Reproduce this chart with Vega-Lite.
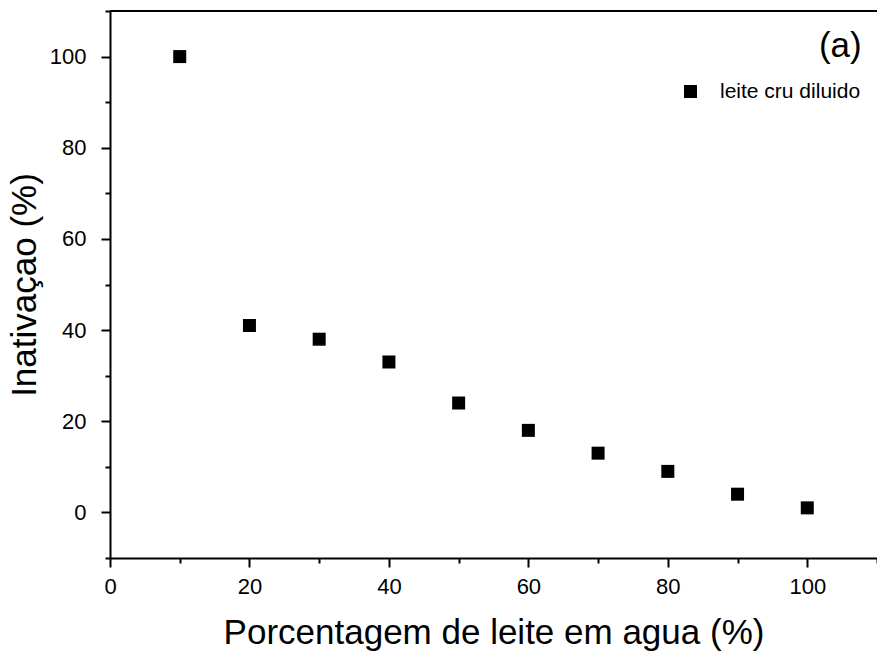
{
  "$schema": "https://vega.github.io/schema/vega-lite/v6.json",
  "width": 767,
  "height": 547,
  "autosize": {"type": "none"},
  "padding": {"left": 110, "top": 11, "right": 0, "bottom": 97},
  "background": "white",
  "config": {
    "view": {"stroke": null},
    "font": "Liberation Sans",
    "axis": {
      "grid": false,
      "domainColor": "black",
      "domainWidth": 2,
      "tickColor": "black",
      "tickWidth": 2,
      "labelColor": "black",
      "labelFont": "Liberation Sans",
      "labelFontSize": 22,
      "titleFont": "Liberation Sans",
      "titleFontSize": 35,
      "titleFontWeight": "normal",
      "titleColor": "black"
    }
  },
  "data": {
    "values": [
      {"x": 10, "y": 100, "serie": "leite cru diluido"},
      {"x": 20, "y": 41, "serie": "leite cru diluido"},
      {"x": 30, "y": 38, "serie": "leite cru diluido"},
      {"x": 40, "y": 33, "serie": "leite cru diluido"},
      {"x": 50, "y": 24, "serie": "leite cru diluido"},
      {"x": 60, "y": 18, "serie": "leite cru diluido"},
      {"x": 70, "y": 13, "serie": "leite cru diluido"},
      {"x": 80, "y": 9, "serie": "leite cru diluido"},
      {"x": 90, "y": 4, "serie": "leite cru diluido"},
      {"x": 100, "y": 1, "serie": "leite cru diluido"}
    ]
  },
  "layer": [
    {
      "mark": {"type": "point", "shape": "square", "filled": true, "size": 169, "opacity": 1},
      "encoding": {
        "x": {
          "field": "x", "type": "quantitative",
          "scale": {"domain": [0, 110], "nice": false, "zero": false},
          "axis": {
            "title": "Porcentagem de leite em agua (%)",
            "values": [0, 10, 20, 30, 40, 50, 60, 70, 80, 90, 100, 110],
            "labelExpr": "datum.value % 20 === 0 && datum.value <= 100 ? datum.label : ''",
            "tickSize": {"condition": {"test": "datum.value % 20 === 0", "value": 9}, "value": 5},
            "labelPadding": 9,
            "titlePadding": 18,
            "labelFlush": false,
            "labelOverlap": false
          }
        },
        "y": {
          "field": "y", "type": "quantitative",
          "scale": {"domain": [-10, 110], "nice": false, "zero": false},
          "axis": {
            "title": "Inativaçao (%)",
            "values": [-10, 0, 10, 20, 30, 40, 50, 60, 70, 80, 90, 100, 110],
            "labelExpr": "datum.value % 20 === 0 && datum.value >= 0 && datum.value <= 100 ? datum.label : ''",
            "tickSize": {"condition": {"test": "datum.value % 20 === 0", "value": 9}, "value": 5},
            "labelPadding": 15,
            "titlePadding": 7,
            "labelFlush": false,
            "labelOverlap": false
          }
        },
        "color": {
          "field": "serie", "type": "nominal",
          "scale": {"range": ["black"]},
          "legend": {
            "title": null,
            "orient": "none",
            "legendX": 570,
            "legendY": 70,
            "symbolType": "square",
            "symbolSize": 169,
            "symbolFillColor": "black",
            "symbolStrokeWidth": 0,
            "labelFont": "Liberation Sans",
            "labelFontSize": 21,
            "labelColor": "black",
            "labelOffset": 19,
            "padding": 0
          }
        }
      }
    },
    {
      "mark": {"type": "rule", "color": "black", "strokeWidth": 2},
      "encoding": {"y": {"datum": 110}}
    },
    {
      "data": {"values": [{"label": "(a)"}]},
      "mark": {"type": "text", "font": "Liberation Sans", "fontSize": 35, "fontWeight": "normal", "align": "right", "baseline": "alphabetic", "color": "black"},
      "encoding": {"text": {"field": "label"}, "x": {"datum": 107.8}, "y": {"datum": 99.8}}
    }
  ]
}
